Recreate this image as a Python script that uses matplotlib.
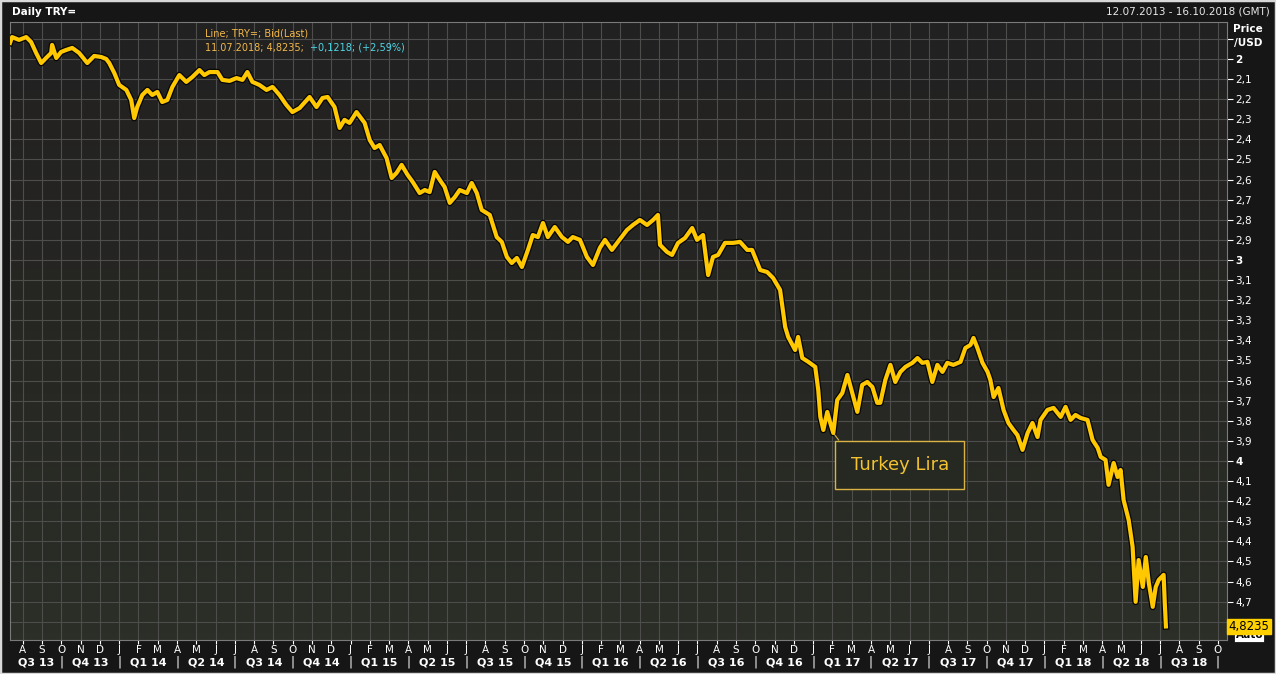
import numpy as np
import matplotlib
matplotlib.use("Agg")
import matplotlib.pyplot as plt
import matplotlib.patheffects as pe
from matplotlib.colors import LinearSegmentedColormap
from matplotlib.patches import Rectangle

## Daily TRY= price per USD (dates as decimal years)
dates = [2013.528, 2013.537, 2013.567, 2013.598, 2013.619, 2013.641, 2013.663, 2013.684, 2013.706, 2013.710,
         2013.728, 2013.749, 2013.771, 2013.797, 2013.827, 2013.862, 2013.892, 2013.922, 2013.944, 2013.957,
         2013.979, 2014.000, 2014.031, 2014.052, 2014.065, 2014.078, 2014.100, 2014.122, 2014.143, 2014.165,
         2014.186, 2014.208, 2014.230, 2014.260, 2014.290, 2014.316, 2014.347, 2014.368, 2014.390, 2014.425,
         2014.446, 2014.477, 2014.507, 2014.533, 2014.554, 2014.576, 2014.606, 2014.637, 2014.663, 2014.693,
         2014.723, 2014.749, 2014.780, 2014.823, 2014.853, 2014.879, 2014.901, 2014.931, 2014.953, 2014.974,
         2014.996, 2015.026, 2015.061, 2015.083, 2015.104, 2015.126, 2015.156, 2015.178, 2015.199, 2015.221,
         2015.247, 2015.269, 2015.299, 2015.321, 2015.342, 2015.364, 2015.386, 2015.407, 2015.429, 2015.451,
         2015.472, 2015.503, 2015.524, 2015.546, 2015.567, 2015.602, 2015.632, 2015.654, 2015.676, 2015.697,
         2015.719, 2015.741, 2015.767, 2015.788, 2015.810, 2015.832, 2015.853, 2015.883, 2015.914, 2015.940,
         2015.961, 2015.992, 2016.022, 2016.048, 2016.078, 2016.100, 2016.130, 2016.156, 2016.195, 2016.221,
         2016.251, 2016.282, 2016.308, 2016.329, 2016.338, 2016.368, 2016.390, 2016.416, 2016.446, 2016.477,
         2016.498, 2016.524, 2016.546, 2016.567, 2016.589, 2016.619, 2016.654, 2016.684, 2016.715, 2016.736,
         2016.771, 2016.801, 2016.827, 2016.857, 2016.879, 2016.892, 2016.922, 2016.935, 2016.953, 2016.979,
         2017.009, 2017.022, 2017.031, 2017.044, 2017.061, 2017.074, 2017.087, 2017.104, 2017.126, 2017.148,
         2017.169, 2017.191, 2017.212, 2017.234, 2017.256, 2017.277, 2017.290, 2017.312, 2017.334, 2017.355,
         2017.377, 2017.399, 2017.429, 2017.451, 2017.472, 2017.494, 2017.515, 2017.537, 2017.559, 2017.580,
         2017.606, 2017.637, 2017.658, 2017.680, 2017.693, 2017.710, 2017.732, 2017.754, 2017.766, 2017.780,
         2017.801, 2017.823, 2017.844, 2017.866, 2017.883, 2017.905, 2017.927, 2017.948, 2017.970, 2017.983,
         2018.013, 2018.039, 2018.070, 2018.091, 2018.113, 2018.134, 2018.156, 2018.186, 2018.208, 2018.230,
         2018.243, 2018.264, 2018.277, 2018.299, 2018.316, 2018.329, 2018.342, 2018.364, 2018.381, 2018.394,
         2018.407, 2018.425, 2018.438, 2018.451, 2018.468, 2018.481, 2018.494, 2018.515, 2018.520, 2018.525]
prices = [1.920, 1.891, 1.905, 1.891, 1.915, 1.970, 2.020, 1.995, 1.970, 1.930,
          1.995, 1.965, 1.955, 1.945, 1.970, 2.020, 1.985, 1.990, 2.000, 2.020,
          2.070, 2.129, 2.154, 2.204, 2.294, 2.239, 2.179, 2.154, 2.179, 2.164,
          2.214, 2.204, 2.139, 2.080, 2.114, 2.090, 2.055, 2.080, 2.065, 2.065,
          2.104, 2.109, 2.095, 2.104, 2.065, 2.114, 2.129, 2.154, 2.139, 2.179,
          2.229, 2.264, 2.244, 2.189, 2.239, 2.194, 2.189, 2.239, 2.343, 2.303,
          2.318, 2.264, 2.318, 2.403, 2.443, 2.428, 2.493, 2.592, 2.567, 2.527,
          2.577, 2.612, 2.667, 2.652, 2.662, 2.562, 2.602, 2.637, 2.716, 2.687,
          2.652, 2.667, 2.617, 2.667, 2.751, 2.776, 2.886, 2.910, 2.985, 3.015,
          2.990, 3.035, 2.950, 2.876, 2.886, 2.816, 2.886, 2.836, 2.886, 2.910,
          2.886, 2.900, 2.985, 3.025, 2.940, 2.900, 2.950, 2.910, 2.851, 2.826,
          2.801, 2.826, 2.801, 2.776, 2.925, 2.960, 2.975, 2.915, 2.891, 2.841,
          2.900, 2.876, 3.075, 2.985, 2.975, 2.915, 2.915, 2.910, 2.950, 2.950,
          3.050, 3.060, 3.090, 3.149, 3.333, 3.383, 3.448, 3.383, 3.488, 3.507,
          3.532, 3.647, 3.781, 3.846, 3.756, 3.811, 3.861, 3.697, 3.662, 3.572,
          3.662, 3.756, 3.622, 3.607, 3.632, 3.711, 3.711, 3.597, 3.522, 3.607,
          3.557, 3.532, 3.512, 3.488, 3.512, 3.507, 3.607, 3.522, 3.557, 3.512,
          3.522, 3.507, 3.438, 3.423, 3.388, 3.438, 3.512, 3.557, 3.597, 3.682,
          3.637, 3.746, 3.811, 3.846, 3.871, 3.945, 3.861, 3.811, 3.881, 3.796,
          3.746, 3.736, 3.781, 3.731, 3.796, 3.771, 3.786, 3.796, 3.896, 3.935,
          3.980, 3.995, 4.119, 4.010, 4.080, 4.045, 4.194, 4.294, 4.428, 4.701,
          4.493, 4.627, 4.478, 4.607, 4.726, 4.627, 4.592, 4.567, 4.706, 4.8235]

last_label = ["Line; TRY=; Bid(Last)", "11.07.2018; 4,8235;", "+0,1218; (+2,59%)"]
period = "12.07.2013 - 16.10.2018 (GMT)"
month_letters = list("JFMAMJJASOND")
xmin, xmax = 2013.528, 2018.789
ymin, ymax = 1.816, 4.891

def comma(v, nd):
    return f"{v:.{nd}f}".replace(".", ",")

W, H = 1276, 674
fig = plt.figure(figsize=(W / 100, H / 100), dpi=100, facecolor="#161616")
fig.patches.append(Rectangle((0, 0), 1, 1, transform=fig.transFigure, fill=False,
                             ec="#d8d8d8", lw=2.5, zorder=10))
fig.text(12 / W, 1 - 12 / H, "Daily TRY=", color="white", fontsize=7.5, fontweight="bold",
         va="center", ha="left")
fig.text(1 - 6 / W, 1 - 12 / H, period, color="#e8e8e8", fontsize=7.5, va="center", ha="right")

ax = fig.add_axes([10 / W, 34 / H, 1217 / W, 618 / H])

# background gradient of the plot area
cmap = LinearSegmentedColormap.from_list("bg", ["#222121", "#262623", "#2b2f27"])
ax.imshow(np.linspace(0, 1, 100).reshape(-1, 1), extent=[xmin, xmax, ymax, ymin],
          aspect="auto", cmap=cmap, zorder=0)

ax.plot(dates, prices, color="#ffc800", lw=3.0, solid_joinstyle="round", zorder=3,
        path_effects=[pe.Stroke(linewidth=4.8, foreground="#050505"), pe.Normal()])

ax.set_xlim(xmin, xmax)
ax.set_ylim(ymax, ymin)

# month ticks / grid
mticks, mlabels = [], []
for yr in range(2013, 2019):
    for m in range(12):
        t = yr + m / 12
        if xmin < t < xmax:
            mticks.append(t)
            mlabels.append(month_letters[m])
ax.set_xticks(mticks)
ax.set_xticklabels(mlabels)
ax.tick_params(axis="x", colors="white", labelcolor="white", labelsize=7.5, length=3, pad=0.5)

yt = np.round(np.arange(1.9, 4.85, 0.1), 1)
ylabels = ["" if (v < 2 or v > 4.75) else comma(v, 1).replace(",0", "") for v in yt]
ax.yaxis.tick_right()
ax.set_yticks(yt)
ax.set_yticklabels(ylabels)
ax.tick_params(axis="y", colors="white", labelcolor="white", labelsize=7.5, length=4, pad=2)
for lab, v in zip(ax.get_yticklabels(), yt):
    if abs(v - round(v)) < 1e-6:
        lab.set_fontweight("bold")

ax.grid(True, color="#4d4d4b", lw=0.8, zorder=1)
ax.set_axisbelow(True)
for s in ax.spines.values():
    s.set_color("#7a7a7a")
    s.set_linewidth(0.8)

# quarter labels and separators
for yr in range(2013, 2019):
    for q in range(4):
        qs, qe = yr + q * 0.25, yr + (q + 1) * 0.25
        if min(qe, xmax) - max(qs, xmin) < 0.1:
            continue
        c = (max(qs, xmin) + min(qe, xmax)) / 2
        ax.text(c, -0.036, f"Q{q + 1} {str(yr)[2:]}", transform=ax.get_xaxis_transform(),
                color="white", fontsize=8, fontweight="bold", ha="center", va="center")
        if qe < xmax:
            ax.text(qe, -0.036, "|", transform=ax.get_xaxis_transform(), color="white",
                    fontsize=8.5, ha="center", va="center")

fig.text(1248 / W, 1 - 29 / H, "Price", color="white", fontsize=7.5, fontweight="bold",
         ha="center", va="center")
fig.text(1248 / W, 1 - 43 / H, "/USD", color="white", fontsize=7.5, fontweight="bold",
         ha="center", va="center")

# legend-like header text in the plot
fig.text(205 / W, 1 - 34 / H, last_label[0], color="#f2b84a", fontsize=7, va="center")
fig.text(205 / W, 1 - 48 / H, last_label[1], color="#f2b84a", fontsize=7, va="center")
fig.text(310 / W, 1 - 48 / H, last_label[2], color="#4fd6e6", fontsize=7, va="center")

# last value flag
trans = ax.get_yaxis_transform()
ax.text(1.007, prices[-1] + 0.045, "Auto", transform=trans, color="black", fontsize=7.5,
        fontweight="bold", ha="left", va="center", clip_on=False,
        bbox=dict(boxstyle="square,pad=0.1", fc="white", ec="black", lw=0.5))
ax.text(1.0012, prices[-1], comma(prices[-1], 4), transform=trans, color="black", fontsize=8.5,
        ha="left", va="center", clip_on=False,
        bbox=dict(boxstyle="square,pad=0.12", fc="#ffd000", ec="#ffd000"))

# annotation
lo = max(range(len(dates)), key=lambda i: prices[i] if dates[i] < 2017.2 else 0)
ax.annotate("Turkey Lira", xy=(dates[lo], prices[lo]), xytext=(48, -23), textcoords="offset points",
            color="#f2c230", fontsize=13, ha="center", va="center", zorder=5,
            bbox=dict(boxstyle="square,pad=0.85", fc="#262822", ec="#d9b445", lw=1),
            arrowprops=dict(arrowstyle="-", color="#d9b445", lw=0.8, relpos=(0, 1),
                            shrinkA=0, shrinkB=1))

fig.savefig("out.png", dpi=100, facecolor=fig.get_facecolor())
